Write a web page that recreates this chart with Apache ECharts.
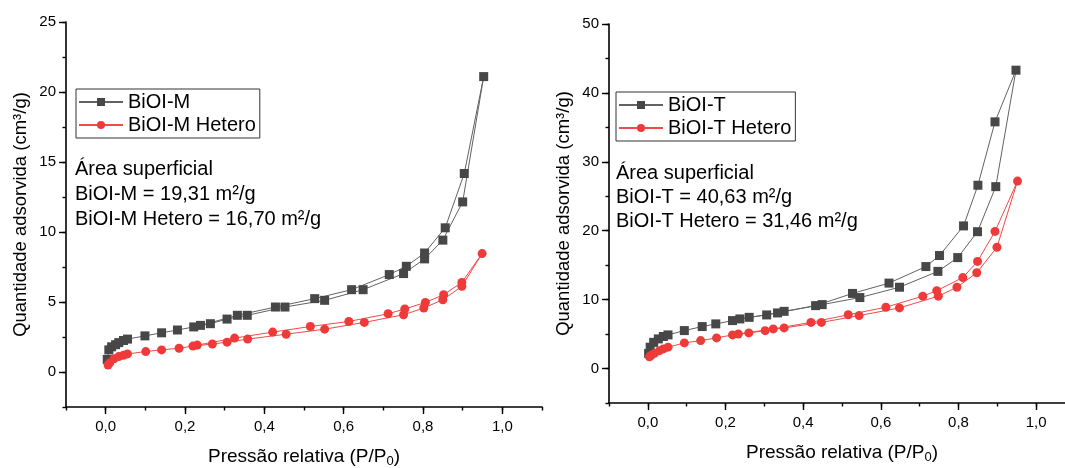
<!DOCTYPE html>
<html>
<head>
<meta charset="utf-8">
<script src="https://cdn.jsdelivr.net/npm/echarts@6/dist/echarts.min.js"></script>
<style>
html,body{margin:0;padding:0;background:#fff;}
#chart{width:1065px;height:468px;}
</style>
</head>
<body>
<div id="chart"></div>
<script>
// ---- Data ----
// Left panel: BiOI-M (adsorption branch then desorption branch)
const biOIM_adsP = [0.004, 0.008, 0.015, 0.025, 0.033, 0.045, 0.055, 0.099, 0.141, 0.181, 0.222, 0.264, 0.306, 0.357, 0.452, 0.552, 0.649, 0.751, 0.804, 0.850, 0.900, 0.953];
const biOIM_adsV = [0.9, 1.58, 1.8, 1.95, 2.1, 2.25, 2.35, 2.58, 2.8, 3.0, 3.22, 3.45, 3.78, 4.05, 4.64, 5.12, 5.88, 7.03, 8.08, 9.42, 12.15, 21.1];
const biOIM_desP = [0.904, 0.856, 0.804, 0.758, 0.715, 0.620, 0.527, 0.428, 0.332, 0.239];
const biOIM_desV = [14.18, 10.3, 8.5, 7.55, 6.96, 5.88, 5.24, 4.64, 4.05, 3.33];

// Left panel: BiOI-M Hetero
const biOIMH_adsP = [0.006, 0.010, 0.021, 0.033, 0.045, 0.055, 0.101, 0.141, 0.185, 0.220, 0.269, 0.306, 0.358, 0.455, 0.552, 0.652, 0.751, 0.802, 0.850, 0.898, 0.949];
const biOIMH_adsV = [0.5, 0.65, 0.95, 1.1, 1.2, 1.29, 1.46, 1.58, 1.7, 1.85, 2.0, 2.13, 2.35, 2.7, 3.06, 3.54, 4.09, 4.57, 5.16, 6.12, 8.46];
const biOIMH_desP = [0.898, 0.852, 0.806, 0.754, 0.712, 0.613, 0.516, 0.421, 0.325, 0.231];
const biOIMH_desV = [6.4, 5.52, 4.97, 4.5, 4.16, 3.61, 3.25, 2.85, 2.42, 1.92];

// Right panel: BiOI-T
const biOIT_adsP = [0.002, 0.006, 0.015, 0.027, 0.040, 0.052, 0.094, 0.140, 0.175, 0.218, 0.261, 0.306, 0.351, 0.449, 0.546, 0.648, 0.747, 0.798, 0.849, 0.896, 0.948];
const biOIT_adsV = [2.2, 3.1, 3.8, 4.3, 4.65, 4.88, 5.51, 6.09, 6.48, 6.96, 7.43, 7.78, 8.3, 9.28, 10.3, 11.8, 14.1, 16.1, 19.86, 26.4, 43.3];
const biOIT_desP = [0.894, 0.850, 0.813, 0.751, 0.716, 0.621, 0.527, 0.432, 0.334, 0.237];
const biOIT_desV = [35.8, 26.6, 20.7, 16.4, 14.8, 12.4, 10.9, 9.13, 8.07, 7.2];

// Right panel: BiOI-T Hetero
const biOITH_adsP = [0.004, 0.008, 0.017, 0.030, 0.040, 0.052, 0.094, 0.136, 0.177, 0.218, 0.260, 0.302, 0.351, 0.447, 0.544, 0.648, 0.748, 0.796, 0.847, 0.899, 0.952];
const biOITH_adsV = [1.7, 1.9, 2.2, 2.6, 2.85, 3.1, 3.72, 4.06, 4.45, 4.88, 5.17, 5.5, 5.9, 6.7, 7.68, 8.8, 10.5, 11.8, 13.9, 17.6, 27.2];
const biOITH_desP = [0.894, 0.849, 0.811, 0.744, 0.708, 0.613, 0.516, 0.420, 0.323, 0.233];
const biOITH_desV = [19.9, 15.55, 13.2, 11.3, 10.5, 8.9, 7.8, 6.7, 5.75, 5.02];

// Tick labels
const xLabelValues = [0, 0.2, 0.4, 0.6, 0.8, 1.0];
const yLabelsLeft = [0, 5, 10, 15, 20, 25];
const yLabelsRight = [0, 10, 20, 30, 40, 50];

// Texts
const seriesNames = ['BiOI-M', 'BiOI-M Hetero', 'BiOI-T', 'BiOI-T Hetero'];
const noteLeft = ['Área superficial', 'BiOI-M = 19,31 m²/g', 'BiOI-M Hetero = 16,70 m²/g'];
const noteRight = ['Área superficial', 'BiOI-T = 40,63 m²/g', 'BiOI-T Hetero = 31,46 m²/g'];
const yTitle = 'Quantidade adsorvida (cm³/g)';

// ---- Build ----
function zip(p, v) { return p.map((x, i) => [x, v[i]]); }
function loop(aP, aV, dP, dV) { return zip(aP, aV).concat(zip(dP, dV)); }

const FONT = "'Liberation Sans', Arial, sans-serif";
const BLACK = '#474747', BLACK_LINE = '#626262';
const RED = '#ef3a3a', RED_LINE = '#f04a4a';

function xAxes(gridIndex) {
  return [{
    type: 'value', gridIndex, min: -0.1, max: 1.1, interval: 0.1,
    axisLine: { onZero: false, lineStyle: { color: '#000', width: 1.6 } },
    axisTick: { show: true, length: 3.5, lineStyle: { color: '#000', width: 1.4 } },
    axisLabel: { customValues: xLabelValues, color: '#000', fontSize: 15, fontFamily: FONT, margin: 12,
      formatter: v => v.toFixed(1).replace('.', ',') },
    splitLine: { show: false },
    name: '{n|Pressão relativa (P/P}{s|0}{n|)}',
    nameLocation: 'middle', nameGap: 38,
    nameTextStyle: { rich: {
      n: { fontSize: 19, fontFamily: FONT, color: '#000', lineHeight: 22 },
      s: { fontSize: 13, fontFamily: FONT, color: '#000', padding: [10, 0, 0, 0] }
    } }
  }, {
    type: 'value', gridIndex, min: -0.1, max: 1.1, position: 'bottom',
    axisLine: { show: false, onZero: false },
    axisTick: { show: true, length: 7, customValues: xLabelValues, lineStyle: { color: '#000', width: 1.4 } },
    axisLabel: { show: false }, splitLine: { show: false }
  }];
}
function yAxes(gridIndex, min, max, step, labels) {
  return [{
    type: 'value', gridIndex, min, max, interval: step,
    axisLine: { show: true, onZero: false, lineStyle: { color: '#000', width: 1.6 } },
    axisTick: { show: true, length: 3.5, lineStyle: { color: '#000', width: 1.4 } },
    axisLabel: { customValues: labels, color: '#000', fontSize: 15, fontFamily: FONT, margin: 10 },
    splitLine: { show: false },
    name: yTitle, nameLocation: 'middle', nameGap: 36,
    nameTextStyle: { fontSize: 18.5, fontFamily: FONT, color: '#000' }
  }, {
    type: 'value', gridIndex, min, max, position: 'left',
    axisLine: { show: false, onZero: false },
    axisTick: { show: true, length: 7, customValues: labels, lineStyle: { color: '#000', width: 1.4 } },
    axisLabel: { show: false }, splitLine: { show: false }
  }];
}
function lineSeries(name, data, xi, yi, sym, color, lineColor, size) {
  return {
    name, type: 'line', xAxisIndex: xi, yAxisIndex: yi, data,
    symbol: sym, symbolSize: size, showAllSymbol: true,
    itemStyle: { color }, lineStyle: { color: lineColor, width: 1 },
    emphasis: { disabled: true }, animation: false, clip: false
  };
}
function legend(names, left, top) {
  return {
    data: names, orient: 'vertical', left, top,
    borderColor: '#333', borderWidth: 1, padding: [3, 4, 3, 2],
    itemWidth: 44, itemHeight: 10, itemGap: 3,
    textStyle: { fontSize: 20, fontFamily: FONT, color: '#000' }
  };
}

const chart = echarts.init(document.getElementById('chart'), null, { renderer: 'canvas' });
chart.setOption({
  backgroundColor: '#fff',
  animation: false,
  grid: [
    { left: 66, top: 22, width: 476, height: 385, containLabel: false, outerBoundsMode: 'none' },
    { left: 609, top: 24, width: 466, height: 379, containLabel: false, outerBoundsMode: 'none' }
  ],
  xAxis: [...xAxes(0), ...xAxes(1)],
  yAxis: [...yAxes(0, -2.5, 25, 2.5, yLabelsLeft), ...yAxes(1, -5, 50, 5, yLabelsRight)],
  legend: [legend(seriesNames.slice(0, 2), 76, 89), legend(seriesNames.slice(2), 616, 92)],
  series: [
    lineSeries(seriesNames[0], loop(biOIM_adsP, biOIM_adsV, biOIM_desP, biOIM_desV), 0, 0, 'rect', BLACK, BLACK_LINE, 9),
    lineSeries(seriesNames[1], loop(biOIMH_adsP, biOIMH_adsV, biOIMH_desP, biOIMH_desV), 0, 0, 'circle', RED, RED_LINE, 9),
    lineSeries(seriesNames[2], loop(biOIT_adsP, biOIT_adsV, biOIT_desP, biOIT_desV), 2, 2, 'rect', BLACK, BLACK_LINE, 9),
    lineSeries(seriesNames[3], loop(biOITH_adsP, biOITH_adsV, biOITH_desP, biOITH_desV), 2, 2, 'circle', RED, RED_LINE, 9)
  ],
  graphic: [
    { type: 'text', left: 75, top: 157, silent: true,
      style: { text: noteLeft.join('\n'), font: '20px ' + FONT, fill: '#000', lineHeight: 25 } },
    { type: 'text', left: 616, top: 161, silent: true,
      style: { text: noteRight.join('\n'), font: '20px ' + FONT, fill: '#000', lineHeight: 24 } }
  ]
});
</script>
</body>
</html>
